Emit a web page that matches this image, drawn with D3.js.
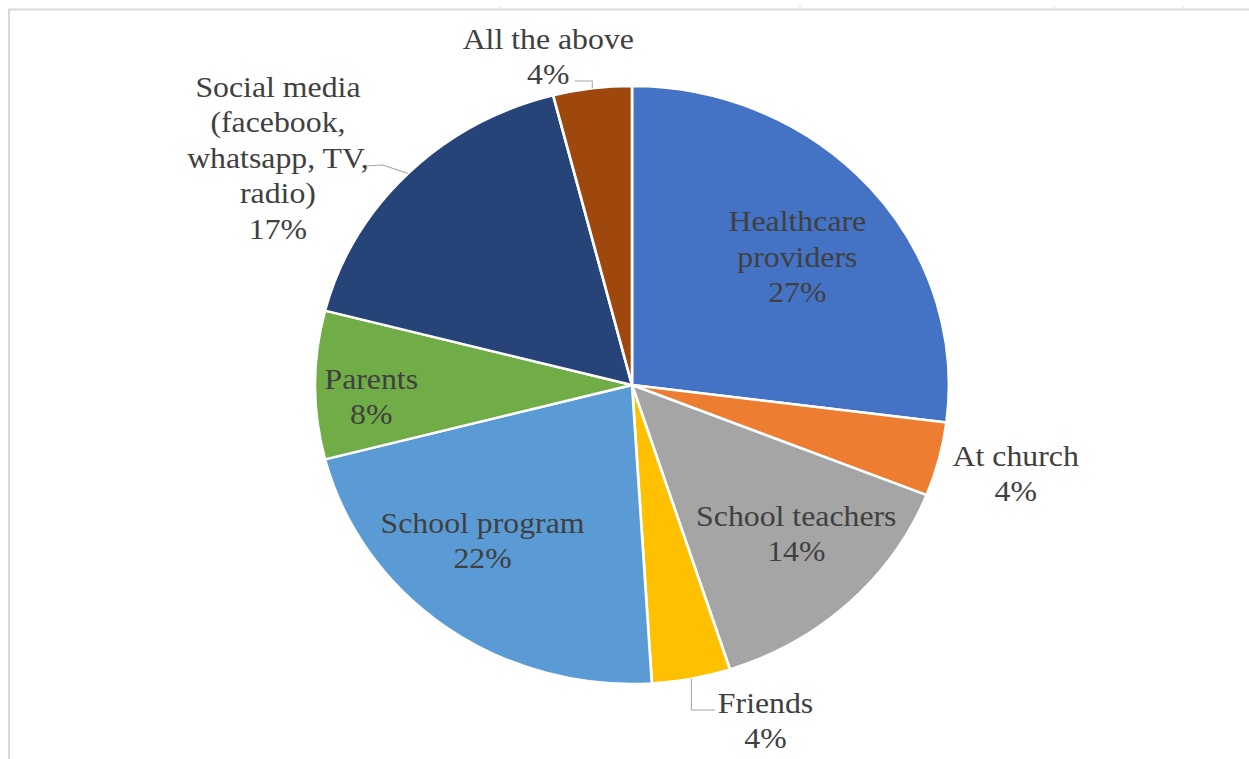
<!DOCTYPE html>
<html>
<head>
<meta charset="utf-8">
<script src="https://cdn.jsdelivr.net/npm/d3@7"></script>
<style>
  html, body { margin: 0; padding: 0; background: #ffffff; }
  svg { display: block; }
</style>
</head>
<body>
<svg id="chart" width="1249" height="759"></svg>
<script>
// Sources of information (share of respondents, %)
const categories = [
  "Healthcare providers",
  "At church",
  "School teachers",
  "Friends",
  "School program",
  "Parents",
  "Social media (facebook, whatsapp, TV, radio)",
  "All the above"
];
const values = [27, 4, 14, 4, 22, 8, 17, 4];
const colors = ["#4472C4", "#ED7D31", "#A5A5A5", "#FFC000", "#5B9BD5", "#70AD47", "#264478", "#9E480E"];

// Label text lines (category split over lines, then the percentage)
const labelLines = [
  ["Healthcare", "providers"],
  ["At church"],
  ["School teachers"],
  ["Friends"],
  ["School program"],
  ["Parents"],
  ["Social media", "(facebook,", "whatsapp, TV,", "radio)"],
  ["All the above"]
];

// Label placement relative to pie centre (unstretched units);
// leader: text-side end and elbow
const labelLayout = [
  { at: [156, -129], leader: null },
  { at: [362, 88], leader: null },
  { at: [155, 148], leader: null },
  { at: [126, 335], leader: { end: [78, 325], elbow: "vertical" } },
  { at: [-141, 155], leader: null },
  { at: [-246, 11], leader: null },
  { at: [-334, -228], leader: { end: [-252, -219], elbow: [-235, -220] } },
  { at: [-79, -329], leader: { end: [-54, -304], elbow: "vertical" } }
];

const svg = d3.select("#chart");
const W = 1249, H = 759;
const cx = 632, cy = 385, R = 299, sx = 1.06;

// sheet frame lines
const frame = svg.append("g").attr("stroke", "#d9d9d9").attr("fill", "none");
frame.append("line").attr("x1", 8).attr("x2", W).attr("y1", 9.5).attr("y2", 9.5).attr("stroke-width", 2);
frame.append("line").attr("x1", 9).attr("x2", 9).attr("y1", 9).attr("y2", H).attr("stroke-width", 2);
[500, 800, 1054, 1183].forEach(x => {
  frame.append("line").attr("x1", x).attr("x2", x).attr("y1", 6).attr("y2", 9).attr("stroke-width", 1);
});

// whole chart drawn slightly wider than tall
const g = svg.append("g").attr("transform", `translate(${cx},${cy}) scale(${sx},1)`);

const pie = d3.pie().sort(null).value(d => d);
const arcs = pie(values);
const arc = d3.arc().innerRadius(0).outerRadius(R);

g.selectAll("path.slice")
  .data(arcs)
  .enter().append("path")
  .attr("class", "slice")
  .attr("d", arc)
  .attr("fill", (d, i) => colors[i])
  .attr("stroke", "#ffffff")
  .attr("stroke-width", 2.5)
  .attr("stroke-linejoin", "round");

// leader lines
arcs.forEach((d, i) => {
  const lay = labelLayout[i];
  if (!lay.leader) return;
  const mid = (d.startAngle + d.endAngle) / 2;
  const edge = [Math.sin(mid) * R, -Math.cos(mid) * R];
  const end = lay.leader.end;
  const elbow = lay.leader.elbow === "vertical" ? [edge[0], end[1]] : lay.leader.elbow;
  g.append("path")
    .attr("d", d3.line()([edge, elbow, end]))
    .attr("fill", "none")
    .attr("stroke", "#a6a6a6")
    .attr("stroke-width", 1);
});

// labels: one text element per line
const lh = 35.5;
arcs.forEach((d, i) => {
  const lines = labelLines[i].concat([d3.format(".0f")(values[i]) + "%"]);
  const [lx, ly] = labelLayout[i].at;
  lines.forEach((s, k) => {
    g.append("text")
      .attr("x", lx)
      .attr("y", ly + (k - (lines.length - 1) / 2) * lh)
      .attr("dy", "0.35em")
      .attr("text-anchor", "middle")
      .attr("fill", "#404040")
      .style("font-family", '"Liberation Serif"')
      .style("font-size", "30px")
      .text(s);
  });
});
</script>
</body>
</html>
